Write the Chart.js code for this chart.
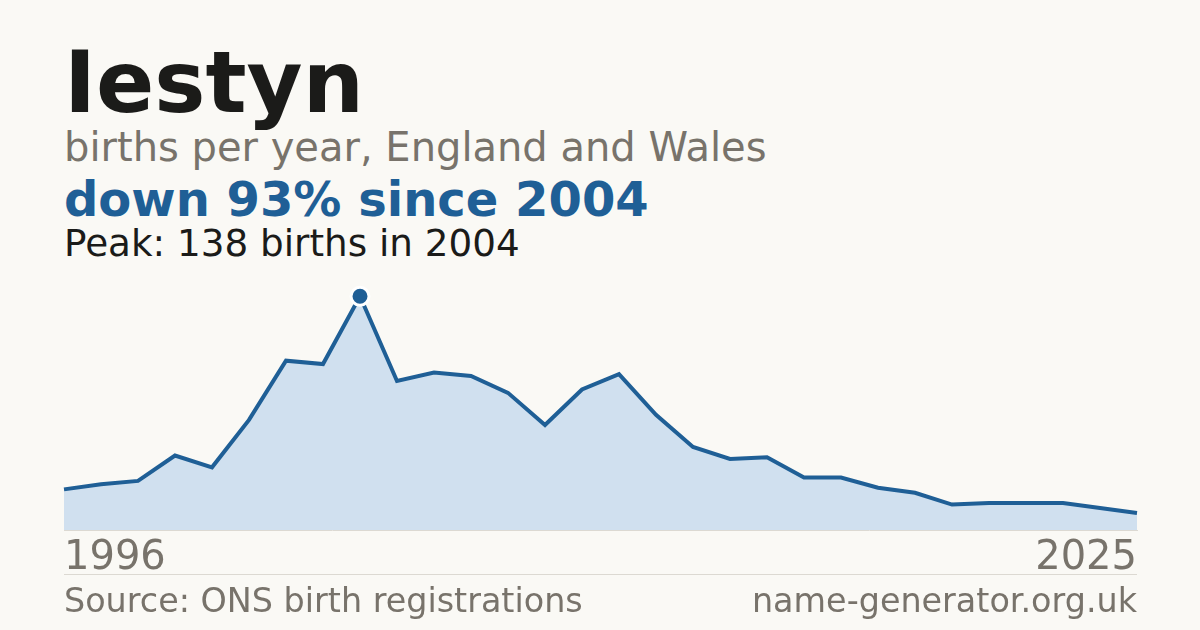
<!DOCTYPE html>
<html>
<head>
<meta charset="utf-8">
<script src="https://cdn.jsdelivr.net/npm/chart.js@4/dist/chart.umd.min.js"></script>
<style>
  html, body { margin: 0; padding: 0; }
  body {
    width: 1200px; height: 630px; overflow: hidden; position: relative;
    background: #faf9f5; font-family: "DejaVu Sans", sans-serif;
  }
  .txt { position: absolute; left: 64px; line-height: 1; white-space: nowrap; }
  #title { top: 39px; font-size: 86px; font-weight: bold; color: #1b1b19; }
  #sub { top: 127px; font-size: 40px; color: #78736b; }
  #change { top: 175px; font-size: 48px; font-weight: bold; color: #1f5f96; }
  #peak { top: 225px; font-size: 37.3px; color: #1b1b19; }
  #rule { position: absolute; left: 64px; width: 1073px; top: 574px; height: 1px; background: #dcd9d2; }
  .foot { position: absolute; top: 584px; font-size: 33.4px; line-height: 1; color: #78736b; white-space: nowrap; }
  #src { left: 64px; }
  #site { right: 63px; }
  /* canvas is 5px wider on each side: Chart.js keeps a few px beside the x labels */
  #wrap { position: absolute; left: 59px; top: 276px; width: 1083px; height: 312px; }
</style>
</head>
<body>
<div class="txt" id="title">Iestyn</div>
<div class="txt" id="sub">births per year, England and Wales</div>
<div class="txt" id="change">down 93% since 2004</div>
<div class="txt" id="peak">Peak: 138 births in 2004</div>
<div id="wrap"><canvas id="chart"></canvas></div>
<div id="rule"></div>
<div class="foot" id="src">Source: ONS birth registrations</div>
<div class="foot" id="site">name-generator.org.uk</div>
<script>
// births per year
const years = [1996, 1997, 1998, 1999, 2000, 2001, 2002, 2003, 2004, 2005,
  2006, 2007, 2008, 2009, 2010, 2011, 2012, 2013, 2014, 2015,
  2016, 2017, 2018, 2019, 2020, 2021, 2022, 2023, 2024, 2025]
const births = [24, 27, 29, 44, 37, 65, 100, 98, 138, 88,
  93, 91, 81, 62, 83, 92, 68, 49, 42, 43,
  31, 31, 25, 22, 15, 16, 16, 16, 13, 10]
const peakIndex = births.indexOf(Math.max(...births))

const BLUE = '#1f5f96'
const GREY = '#78736b'

Chart.defaults.font.family = '"DejaVu Sans", sans-serif'

new Chart(document.getElementById('chart'), {
  type: 'line',
  data: {
    labels: years,
    datasets: [{
      data: births,
      borderColor: BLUE,
      borderWidth: 4,
      backgroundColor: '#d0e0ef',
      fill: 'origin',
      tension: 0,
      pointRadius: births.map((_, i) => (i === peakIndex ? 9 : 0)),
      pointHoverRadius: 0,
      pointBackgroundColor: BLUE,
      pointBorderColor: '#ffffff',
      pointBorderWidth: 3
    }]
  },
  options: {
    responsive: true,
    maintainAspectRatio: false,
    animation: false,
    layout: { padding: 0, autoPadding: false },
    plugins: { legend: { display: false }, tooltip: { enabled: false } },
    scales: {
      x: {
        offset: false,
        grid: { display: false, drawTicks: false },
        border: { display: true, color: '#dcd9d2', width: 1 },
        ticks: {
          autoSkip: false,
          maxRotation: 0,
          align: 'inner',
          padding: 5,
          color: GREY,
          font: { size: 40 },
          callback: (v, i) => (i === 0 || i === years.length - 1 ? String(years[i]) : '')
        }
      },
      y: {
        display: false,
        min: 0,
        max: 150
      }
    }
  }
})
</script>
</body>
</html>
